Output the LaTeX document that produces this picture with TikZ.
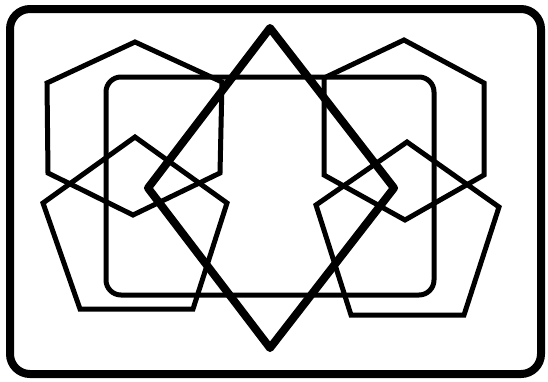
\documentclass[tikz,border=0pt]{standalone}
\usepackage{tikz}
\usetikzlibrary{calc}

\begin{document}
\begin{tikzpicture}[
    x=1pt, y=-1pt,
    frame/.style={draw=black, line width=8pt, rounded corners=20pt},
    innerframe/.style={draw=black, line width=5pt, rounded corners=15pt},
    poly/.style={draw=black, line width=5pt},
    rhomb/.style={draw=black, line width=8pt, line join=round}
]
\useasboundingbox (0,0) rectangle (548,381);

% Frames
\draw[frame] (10,9) rectangle (541,374);
\draw[innerframe] (106,77) rectangle (434,295);

% Hexagons
\draw[poly] (135,42) -- (222,82) -- (220,173) -- (133,215) -- (48,173) -- (47,83) -- cycle;
\draw[poly] (404,40) -- (484,83) -- (484,175) -- (405,220) -- (324,175) -- (324,78) -- cycle;

% Pentagons
\draw[poly] (135,137) -- (227,203) -- (193,309) -- (80,309) -- (43,203) -- cycle;
\draw[poly] (407,142) -- (499,207) -- (464,315) -- (351,315) -- (316,205) -- cycle;

% Diamond
\draw[rhomb] (270,28) -- (394,188) -- (270,348) -- (148,188) -- cycle;

\end{tikzpicture}
\end{document}
